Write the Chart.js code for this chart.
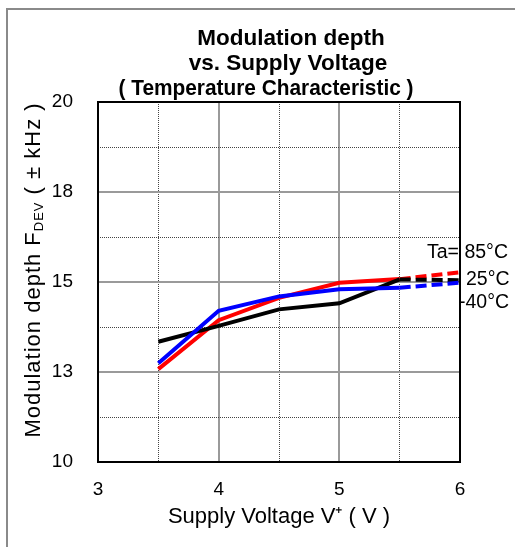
<!DOCTYPE html>
<html>
<head>
<meta charset="utf-8">
<script src="https://cdn.jsdelivr.net/npm/chart.js@4"></script>
<style>
  html, body { margin: 0; padding: 0; background: #fff; }
  #wrap { width: 515px; height: 547px; }
</style>
</head>
<body>
<div id="wrap"><canvas id="fdev" width="515" height="547"></canvas></div>
<script>
const voltage = [3.5, 4, 4.5, 5, 5.5, 6];
const fdev85 = [12.58, 13.94, 14.56, 14.98, 15.08, 15.27];
const fdev25 = [13.34, 13.78, 14.24, 14.41, 15.07, 15.05];
const fdevMinus40 = [12.74, 14.2, 14.6, 14.8, 14.84, 14.98];

const xTicks = [3, 4, 5, 6];
const xTickLabels = ["3", "4", "5", "6"];
const yTicks = [10, 12.5, 15, 17.5, 20];
const yTickLabels = ["10", "13", "15", "18", "20"];

const titleLines = ["Modulation depth", "vs. Supply Voltage", "( Temperature Characteristic )"];
const tempLabels = ["Ta= 85°C", "25°C", "-40°C"];

const FONT = "'Liberation Sans', Arial, sans-serif";

function points(ys) {
  return voltage.map((v, i) => ({ x: v, y: ys[i] }));
}

// dashed part beyond 5.5 V
const dashAfter = (ctx) => (ctx.p0.parsed.x >= 5.5 ? [11, 5] : undefined);

function isMajor(value, list) {
  return list.indexOf(value) >= 0;
}

const decor = {
  id: "decor",
  beforeDraw(chart) {
    const c = chart.ctx;
    c.save();
    c.strokeStyle = "#8a8a8a";
    c.lineWidth = 2;
    c.strokeRect(7, 9, 600, 600);
    c.restore();
  },
  afterDraw(chart) {
    const c = chart.ctx;
    const a = chart.chartArea;
    c.save();
    // plot frame
    c.strokeStyle = "#000";
    c.lineWidth = 2;
    c.strokeRect(a.left, a.top, a.right - a.left, a.bottom - a.top);

    // title
    c.fillStyle = "#000";
    c.font = "bold 22.5px " + FONT;
    c.textAlign = "center";
    c.textBaseline = "alphabetic";
    const tx = [291, 288, 266];
    const ty = [45, 70, 95];
    const tw = [400, 400, 295];
    titleLines.forEach((t, i) => c.fillText(t, tx[i], ty[i], tw[i]));

    // temperature labels
    c.font = "19.5px " + FONT;
    c.textAlign = "left";
    c.fillText(tempLabels[0], 427, 258);
    c.fillText(tempLabels[1], 466, 285);
    c.fillText(tempLabels[2], 459, 308);

    // y axis title with subscript
    const main1 = "Modulation depth F";
    const sub = "DEV";
    const main2 = " ( \u00b1 kHz )";
    const big = "22px " + FONT;
    const small = "13px " + FONT;
    c.letterSpacing = "1px";
    c.font = big;
    const w1 = c.measureText(main1).width;
    const w3 = c.measureText(main2).width;
    c.font = small;
    const w2 = c.measureText(sub).width;
    const total = w1 + w2 + w3;
    c.translate(40, 270);
    c.rotate(-Math.PI / 2);
    let x = -total / 2;
    c.font = big;
    c.fillText(main1, x, 0);
    x += w1;
    c.font = small;
    c.fillText(sub, x, 3);
    x += w2;
    c.font = big;
    c.fillText(main2, x, 0);
    c.restore();
  }
};

const ctx = document.getElementById("fdev").getContext("2d");

const config = {
  type: "line",
  data: {
    datasets: [
      {
        label: "-40°C",
        data: points(fdevMinus40),
        borderColor: "#0000ff",
      },
      {
        label: "25°C",
        data: points(fdev25),
        borderColor: "#000000",
      },
      {
        label: "85°C",
        data: points(fdev85),
        borderColor: "#ff0000",
      },
    ],
  },
  options: {
    responsive: false,
    animation: false,
    events: [],
    layout: {
      padding: { top: 102, right: 55, left: 0, bottom: 0 },
    },
    elements: {
      point: { radius: 0 },
      line: { borderWidth: 4, tension: 0, borderCapStyle: "butt", fill: false },
    },
    datasets: {
      line: { segment: { borderDash: dashAfter } },
    },
    plugins: {
      legend: { display: false },
      title: { display: false },
      tooltip: { enabled: false },
    },
    scales: {
      x: {
        type: "linear",
        min: 3,
        max: 6,
        afterFit: (s) => { s.height = 85; },
        ticks: {
          stepSize: 0.5,
          autoSkip: false,
          maxRotation: 0,
          padding: 16,
          color: "#000",
          font: { size: 19, family: FONT },
          callback: (v) => {
            const i = xTicks.indexOf(v);
            return i >= 0 ? xTickLabels[i] : "";
          },
        },
        grid: {
          drawTicks: false,
          color: (c) => (isMajor(c.tick.value, xTicks) ? "#9a9a9a" : "#444"),
          lineWidth: (c) => (isMajor(c.tick.value, xTicks) ? 2 : 1),
        },
        border: {
          display: false,
          dash: (c) => (isMajor(c.tick.value, xTicks) ? [] : [1, 1]),
        },
        title: {
          display: true,
          text: "Supply Voltage V\u207a ( V )",
          color: "#000",
          font: { size: 22, family: FONT },
          padding: { top: 0, bottom: 16.5 },
        },
      },
      y: {
        type: "linear",
        min: 10,
        max: 20,
        afterFit: (s) => { s.width = 98; },
        ticks: {
          stepSize: 1.25,
          autoSkip: false,
          padding: 25,
          color: "#000",
          font: { size: 19, family: FONT },
          callback: (v) => {
            const i = yTicks.indexOf(v);
            return i >= 0 ? yTickLabels[i] : "";
          },
        },
        grid: {
          drawTicks: false,
          color: (c) => (isMajor(c.tick.value, yTicks) ? "#9a9a9a" : "#444"),
          lineWidth: (c) => (isMajor(c.tick.value, yTicks) ? 2 : 1),
        },
        border: {
          display: false,
          dash: (c) => (isMajor(c.tick.value, yTicks) ? [] : [1, 1]),
        },
      },
    },
  },
  plugins: [decor],
};

new Chart(ctx, config);
</script>
</body>
</html>
